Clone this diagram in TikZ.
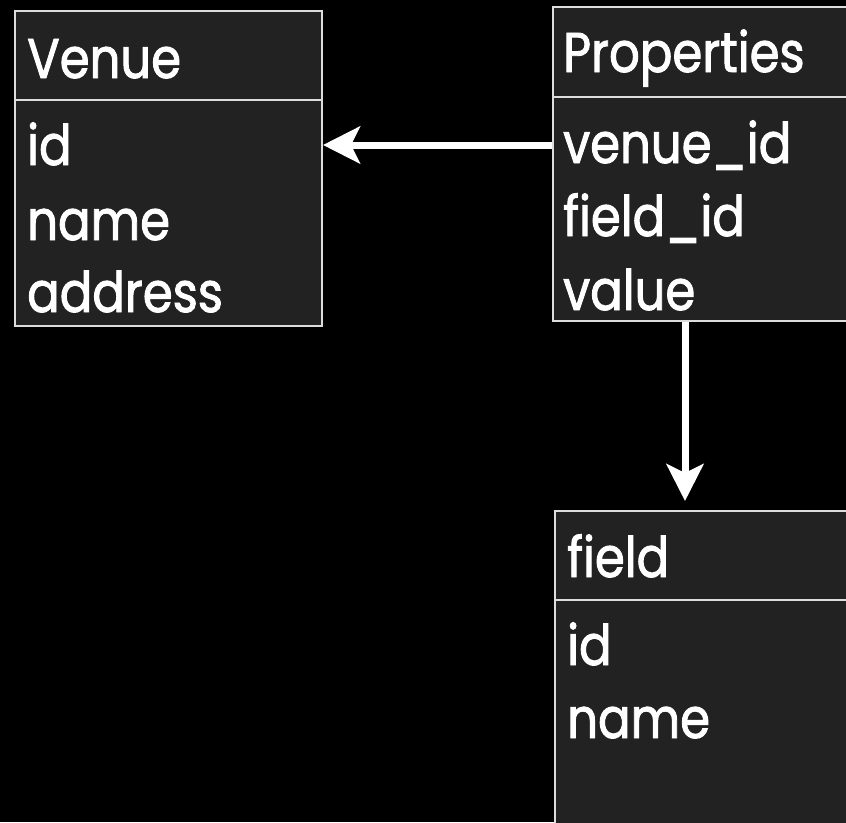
\documentclass[tikz,border=0pt]{standalone}
\usepackage{fontspec}
\setmainfont{Poppins}[FakeStretch=0.86,FakeBold=1.6]
\usetikzlibrary{arrows.meta}
\definecolor{boxfill}{HTML}{222222}
\definecolor{boxline}{HTML}{DDDDDD}
\begin{document}
\begin{tikzpicture}[x=1pt,y=-1pt,
  tbl/.style={draw=boxline, line width=2pt, fill=boxfill, rectangle, anchor=north west, inner sep=0pt},
  txt/.style={anchor=base west, text=white, inner sep=0pt, font=\fontsize{56}{56}\selectfont},
  link/.style={draw=white, line width=7pt, -{Stealth[length=37pt,width=37pt,inset=9pt]}}]
\fill[black] (0,0) rectangle (846,822);
\useasboundingbox (0,0) rectangle (846,822);
\clip (0,0) rectangle (846,822);
% Venue
\node[tbl, minimum width=307pt, minimum height=89pt] (vh) at (14,10) {};
\node[tbl, minimum width=307pt, minimum height=226pt] (vb) at (14,99) {};
\node[txt] (vt) at (27,78) {Venue};
\node[txt] (v1) at (27,165) {id};
\node[txt] (v2) at (27,240) {name};
\node[txt] (v3) at (27,312) {address};
% Properties
\node[tbl, minimum width=330pt, minimum height=90pt] (ph) at (552,6) {};
\node[tbl, minimum width=330pt, minimum height=224pt] (pb) at (552,96) {};
\node[txt] (pt) at (563,72) {Properties};
\node[txt] (p1) at (563,163) {venue\_id};
\node[txt] (p2) at (563,236) {field\_id};
\node[txt] (p3) at (563,310) {value};
% field
\node[tbl, minimum width=330pt, minimum height=89pt] (fh) at (554,510) {};
\node[tbl, minimum width=330pt, minimum height=280pt] (fb) at (554,599) {};
\node[txt] (ft) at (567,577) {field};
\node[txt] (f1) at (567,665) {id};
\node[txt] (f2) at (567,738) {name};
% connectors
\coordinate (s1) at ([yshift=-49pt]pb.north west);
\coordinate (s2) at ([xshift=133pt]pb.south west);
\coordinate (e2) at ([xshift=131pt]fh.north west);
\draw[link] (s1) -- (vb.east |- s1);
\draw[link, shorten >=9pt] (s2) -- (e2);
\end{tikzpicture}
\end{document}
